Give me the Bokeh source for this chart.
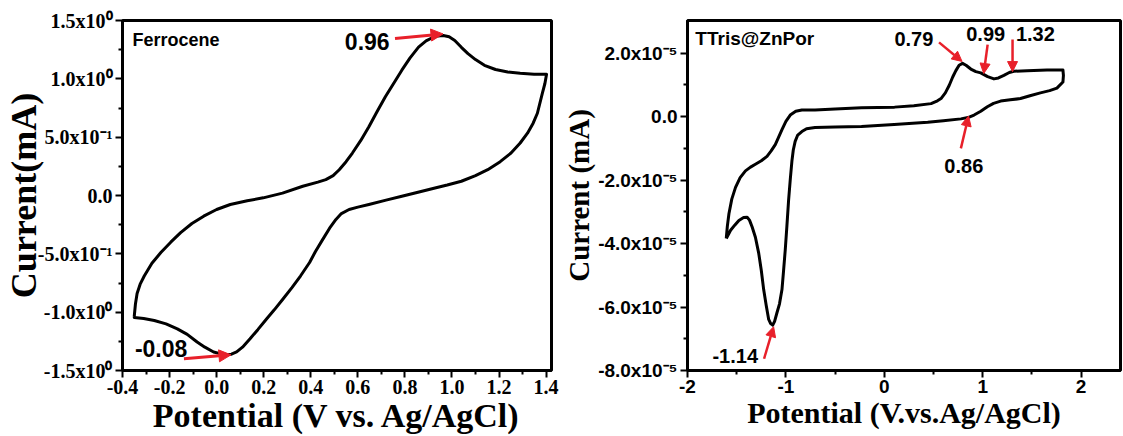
from bokeh.plotting import figure
from bokeh.layouts import row
from bokeh.models import (Range1d, FixedTicker, Label, Arrow, NormalHead,
                          ColumnDataSource, CustomJSTickFormatter)
from bokeh.embed import file_html
from bokeh.resources import INLINE

# ---------------- data: Ferrocene CV ----------------
fc_potential = [
    -0.350, -0.345, -0.338, -0.325, -0.307, -0.275, -0.237, -0.195, -0.153, -0.105,
    -0.055, 0.000, 0.058, 0.130, 0.198, 0.280, 0.366, 0.430, 0.464, 0.495,
    0.521, 0.550, 0.577, 0.612, 0.647, 0.682, 0.717, 0.752, 0.787, 0.822,
    0.858, 0.890, 0.914, 0.940, 0.963, 0.988, 1.012, 1.040, 1.068, 1.100,
    1.138, 1.185, 1.237, 1.290, 1.349, 1.402,
    1.395, 1.384, 1.363, 1.345, 1.321, 1.290, 1.251, 1.205, 1.152, 1.100,
    1.040, 0.980, 0.928, 0.860, 0.787, 0.720, 0.647, 0.600, 0.563, 0.530,
    0.507, 0.480, 0.451, 0.420, 0.395, 0.357, 0.320, 0.282, 0.245, 0.212,
    0.175, 0.142, 0.110, 0.085, 0.063, 0.043, 0.015, -0.013, -0.050, -0.083,
    -0.125, -0.167, -0.215, -0.265, -0.310, -0.350, -0.350]
fc_current = [
    -1.035, -0.930, -0.840, -0.760, -0.688, -0.580, -0.489, -0.400, -0.318, -0.240,
    -0.177, -0.120, -0.077, -0.045, -0.020, 0.020, 0.079, 0.115, 0.136, 0.170,
    0.221, 0.290, 0.364, 0.470, 0.590, 0.720, 0.846, 0.960, 1.074, 1.180,
    1.272, 1.325, 1.350, 1.368, 1.372, 1.360, 1.329, 1.270, 1.216, 1.165,
    1.116, 1.080, 1.059, 1.048, 1.040, 1.040,
    0.960, 0.875, 0.705, 0.620, 0.534, 0.450, 0.364, 0.290, 0.221, 0.170,
    0.122, 0.090, 0.065, 0.030, -0.006, -0.040, -0.077, -0.100, -0.120, -0.155,
    -0.205, -0.280, -0.376, -0.480, -0.574, -0.688, -0.790, -0.887, -0.980, -1.058,
    -1.150, -1.228, -1.300, -1.341, -1.360, -1.364, -1.355, -1.341, -1.300, -1.256,
    -1.190, -1.143, -1.100, -1.072, -1.055, -1.045, -1.035]

# ---------------- data: TTris@ZnPor CV (current in units of 1e-5 mA) ----------------
tt_potential = [
    -1.606, -1.595, -1.579, -1.550, -1.512, -1.465, -1.411, -1.360, -1.310, -1.250,
    -1.192, -1.150, -1.108, -1.075, -1.040, -1.000, -0.956, -0.900, -0.838, -0.704,
    -0.500, -0.232, 0.104, 0.300, 0.475, 0.540, 0.576, 0.620, 0.660, 0.695,
    0.727, 0.760, 0.795, 0.830, 0.879, 0.930, 0.980, 1.050, 1.114, 1.160,
    1.215, 1.270, 1.316, 1.451, 1.653, 1.815,
    1.820, 1.815, 1.754, 1.680, 1.586, 1.480, 1.384, 1.280, 1.182, 1.110,
    1.047, 0.980, 0.912, 0.850, 0.778, 0.600, 0.441, 0.100, -0.232, -0.500,
    -0.704, -0.790, -0.838, -0.880, -0.906, -0.925, -0.939, -0.955, -0.973, -0.990,
    -1.007, -1.025, -1.040, -1.065, -1.091, -1.115, -1.134, -1.155, -1.175, -1.200,
    -1.226, -1.250, -1.276, -1.310, -1.343, -1.370, -1.394, -1.430, -1.478, -1.520,
    -1.562, -1.606]
tt_current_e5 = [
    -3.84, -3.45, -3.06, -2.60, -2.23, -1.92, -1.71, -1.59, -1.50, -1.39,
    -1.25, -1.08, -0.88, -0.65, -0.41, -0.15, 0.05, 0.17, 0.21, 0.21,
    0.24, 0.28, 0.30, 0.34, 0.41, 0.50, 0.57, 0.75, 0.99, 1.25,
    1.45, 1.62, 1.68, 1.62, 1.50, 1.42, 1.38, 1.26, 1.19, 1.22,
    1.30, 1.39, 1.43, 1.45, 1.47, 1.47,
    1.30, 1.09, 0.90, 0.82, 0.75, 0.66, 0.57, 0.53, 0.49, 0.42,
    0.31, 0.17, 0.05, -0.03, -0.07, -0.13, -0.18, -0.25, -0.31, -0.33,
    -0.34, -0.38, -0.47, -0.58, -0.78, -1.05, -1.40, -1.95, -2.65, -3.45,
    -4.21, -4.90, -5.45, -5.90, -6.18, -6.45, -6.57, -6.52, -6.39, -5.95,
    -5.45, -4.85, -4.31, -3.80, -3.48, -3.26, -3.17, -3.18, -3.27, -3.42,
    -3.58, -3.84]
tt_scale = 1e-5

# ---------------- ticks ----------------
fc_xticks = [-0.4, -0.2, 0.0, 0.2, 0.4, 0.6, 0.8, 1.0, 1.2, 1.4]
fc_xtick_labels = ["-0.4", "-0.2", "0.0", "0.2", "0.4", "0.6", "0.8", "1.0", "1.2", "1.4"]
fc_xminor = [-0.3, -0.1, 0.1, 0.3, 0.5, 0.7, 0.9, 1.1, 1.3]
fc_yticks = [-1.5, -1.0, -0.5, 0.0, 0.5, 1.0, 1.5]
fc_ytick_labels = ["-1.5x10\u2070", "-1.0x10\u2070", "-5.0x10\u207b\u00b9", "0.0",
                   "5.0x10\u207b\u00b9", "1.0x10\u2070", "1.5x10\u2070"]
fc_yminor = [-1.25, -0.75, -0.25, 0.25, 0.75, 1.25]

tt_xticks = [-2, -1, 0, 1, 2]
tt_xtick_labels = ["-2", "-1", "0", "1", "2"]
tt_xminor = [-1.5, -0.5, 0.5, 1.5]
tt_yticks = [-8e-5, -6e-5, -4e-5, -2e-5, 0.0, 2e-5]
tt_ytick_labels = ["-8.0x10\u207b\u2075", "-6.0x10\u207b\u2075", "-4.0x10\u207b\u2075",
                   "-2.0x10\u207b\u2075", "0.0", "2.0x10\u207b\u2075"]
tt_yminor = [-7e-5, -5e-5, -3e-5, -1e-5, 1e-5]

# ---------------- annotations ----------------
fc_peak_texts = ["0.96", "-0.08"]
fc_peak_text_xy = [(0.64, 1.32), (-0.236, -1.313)]
fc_arrows = [((0.758, 1.346), (0.962, 1.385)), ((-0.139, -1.399), (0.061, -1.366))]

tt_peak_texts = ["0.79", "0.99", "1.32", "0.86", "-1.14"]
tt_peak_text_xy = [(0.30, 2.46e-5), (1.03, 2.62e-5), (1.535, 2.62e-5),
                   (0.808, -1.56e-5), (-1.515, -7.54e-5)]
tt_arrows = [((0.556, 2.34e-5), (0.790, 1.74e-5)),
             ((1.05, 2.27e-5), (1.01, 1.36e-5)),
             ((1.303, 2.43e-5), (1.303, 1.42e-5)),
             ((0.778, -1.0e-5), (0.856, 0.02e-5)),
             ((-1.222, -7.63e-5), (-1.125, -6.62e-5))]

SERIF = "Liberation Serif"
SANS = "Liberation Sans"
RED = "#e8202a"


def label_formatter(tvals, tlabels):
    return CustomJSTickFormatter(args=dict(tvals=tvals, tlabels=tlabels), code="""
        let best = 0, bd = Infinity;
        for (let i = 0; i < tvals.length; i++) {
            const d = Math.abs(tvals[i] - tick);
            if (d < bd) { bd = d; best = i; }
        }
        return tlabels[best];
    """)


def style(p, tick_font, tick_size, title_size_x, title_size_y, ylabel_standoff):
    p.grid.visible = False
    p.outline_line_color = "black"
    p.outline_line_width = 3
    p.background_fill_color = "white"
    p.border_fill_color = "white"
    for ax in (p.xaxis[0], p.yaxis[0]):
        ax.axis_line_width = 3
        ax.major_tick_line_width = 2
        ax.minor_tick_line_width = 2
        ax.major_tick_out = 7
        ax.major_tick_in = 0
        ax.minor_tick_out = 4
        ax.minor_tick_in = 0
        ax.major_label_text_font = tick_font
        ax.major_label_text_font_style = "bold"
        ax.major_label_text_font_size = tick_size
        ax.major_label_text_color = "black"
        ax.axis_label_text_font = SERIF
        ax.axis_label_text_font_style = "bold"
        ax.axis_label_text_color = "black"
    p.xaxis[0].axis_label_text_font_size = title_size_x
    p.yaxis[0].axis_label_text_font_size = title_size_y
    p.xaxis[0].major_label_standoff = 2
    p.xaxis[0].axis_label_standoff = 0
    p.yaxis[0].major_label_standoff = 3
    p.yaxis[0].axis_label_standoff = ylabel_standoff


# ---------------- left panel ----------------
p1 = figure(width=560, height=436, x_range=Range1d(-0.4, 1.423), y_range=Range1d(-1.5, 1.5),
            output_backend="svg", toolbar_location=None,
            min_border_left=118, min_border_right=9, min_border_top=20, min_border_bottom=64,
            x_axis_label="Potential (V vs. Ag/AgCl)", y_axis_label="Current(mA)")
src1 = ColumnDataSource(dict(x=fc_potential, y=fc_current))
p1.line("x", "y", source=src1, line_color="black", line_width=3, line_join="round")
p1.xaxis[0].ticker = FixedTicker(ticks=fc_xticks, minor_ticks=fc_xminor)
p1.xaxis[0].formatter = label_formatter(fc_xticks, fc_xtick_labels)
p1.yaxis[0].ticker = FixedTicker(ticks=fc_yticks, minor_ticks=fc_yminor)
p1.yaxis[0].formatter = label_formatter(fc_yticks, fc_ytick_labels)
style(p1, SERIF, "20px", "34px", "36px", -9)

p1.add_layout(Label(x=-0.358, y=1.33, text="Ferrocene", text_font=SANS, text_font_style="bold",
                    text_font_size="18px", text_color="black",
                    text_align="left", text_baseline="middle"))
for t, (lx, ly) in zip(fc_peak_texts, fc_peak_text_xy):
    p1.add_layout(Label(x=lx, y=ly, text=t, text_font=SANS, text_font_style="bold",
                        text_font_size="23px", text_color="black",
                        text_align="center", text_baseline="middle"))
for (s, e) in fc_arrows:
    p1.add_layout(Arrow(x_start=s[0], y_start=s[1], x_end=e[0], y_end=e[1],
                        line_color=RED, line_width=3,
                        end=NormalHead(size=12, fill_color=RED, line_color=RED)))

# ---------------- right panel ----------------
p2 = figure(width=563, height=436, x_range=Range1d(-2, 2.4), y_range=Range1d(-8e-5, 3.03e-5),
            output_backend="svg", toolbar_location=None,
            min_border_left=125, min_border_right=3, min_border_top=18, min_border_bottom=64,
            x_axis_label="Potential (V.vs.Ag/AgCl)", y_axis_label="Current (mA)")
src2 = ColumnDataSource(dict(x=tt_potential, y=[v * tt_scale for v in tt_current_e5]))
p2.line("x", "y", source=src2, line_color="black", line_width=3, line_join="round")
p2.xaxis[0].ticker = FixedTicker(ticks=tt_xticks, minor_ticks=tt_xminor)
p2.xaxis[0].formatter = label_formatter(tt_xticks, tt_xtick_labels)
p2.yaxis[0].ticker = FixedTicker(ticks=tt_yticks, minor_ticks=tt_yminor)
p2.yaxis[0].formatter = label_formatter(tt_yticks, tt_ytick_labels)
style(p2, SANS, "19px", "30px", "29px", 0)

p2.add_layout(Label(x=-1.92, y=2.46e-5, text="TTris@ZnPor", text_font=SANS, text_font_style="bold",
                    text_font_size="19px", text_color="black",
                    text_align="left", text_baseline="middle"))
for t, (lx, ly) in zip(tt_peak_texts, tt_peak_text_xy):
    p2.add_layout(Label(x=lx, y=ly, text=t, text_font=SANS, text_font_style="bold",
                        text_font_size="20px", text_color="black",
                        text_align="center", text_baseline="middle"))
for (s, e) in tt_arrows:
    p2.add_layout(Arrow(x_start=s[0], y_start=s[1], x_end=e[0], y_end=e[1],
                        line_color=RED, line_width=2.5,
                        end=NormalHead(size=10, fill_color=RED, line_color=RED)))

layout = row(p1, p2)
open("out.html", "w").write(file_html(layout, INLINE))
